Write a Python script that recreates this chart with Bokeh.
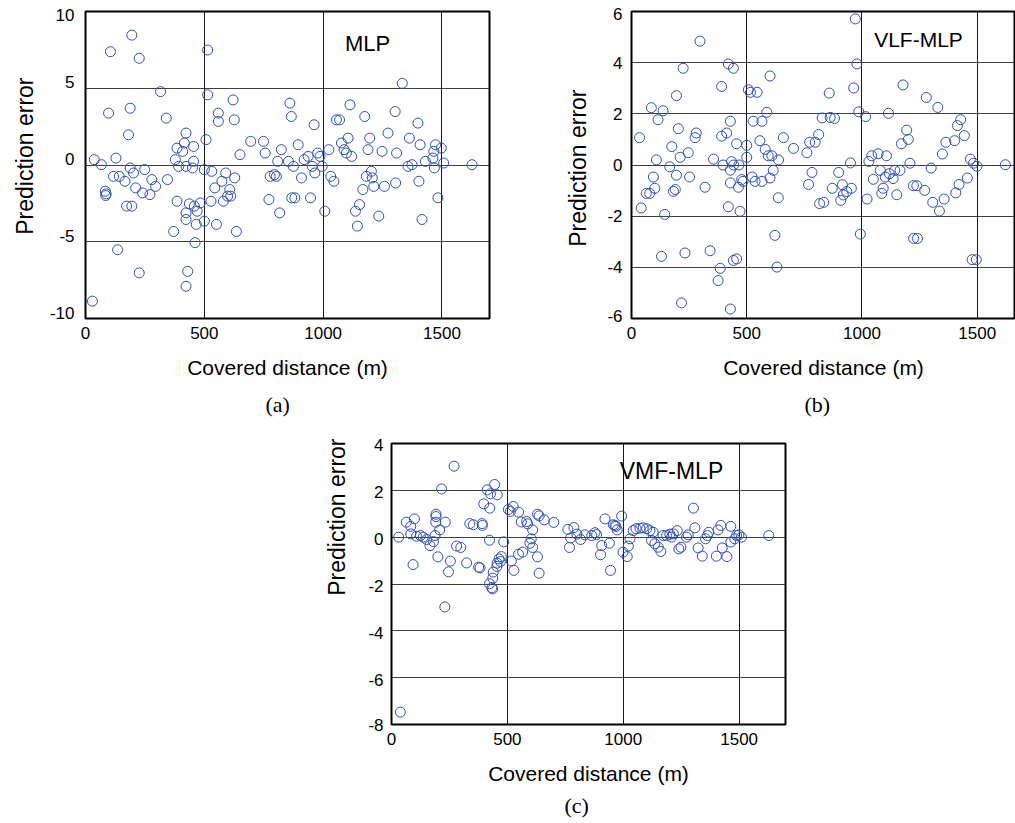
from bokeh.plotting import figure
from bokeh.layouts import column, row
from bokeh.models import Spacer, Label, Title, FixedTicker, Range1d
from bokeh.embed import file_html
from bokeh.resources import INLINE

# ---------------- data ----------------
x_ticks = [0, 500, 1000, 1500]
a_yticks = [-10, -5, 0, 5, 10]
b_yticks = [-6, -4, -2, 0, 2, 4, 6]
c_yticks = [-8, -6, -4, -2, 0, 2, 4]

x_title = "Covered distance (m)"
y_title = "Prediction error"
names = ["MLP", "VLF-MLP", "VMF-MLP"]
tags = ["(a)", "(b)", "(c)"]

# (a) MLP
a_x = [195, 105, 226, 514, 316, 514, 621, 97, 188, 340,
       559, 559, 626, 181, 423, 416, 385, 409, 455, 507,
       695, 749, 756, 650, 824, 860, 866, 809, 854, 37,
       67, 128, 378, 455, 392, 423, 450, 188, 249, 202,
       500, 531, 590, 628, 118, 142, 166, 279, 345, 295,
       211, 574, 607, 544, 240, 271, 83, 85, 87, 598,
       611, 580, 777, 795, 803, 772, 868, 817, 385, 437,
       458, 483, 470, 423, 423, 466, 500, 528, 551, 635,
       371, 173, 195, 461, 135, 226, 430, 423, 29,
       1333, 1113, 1303, 1175, 1056, 1069, 962, 1399, 895, 1273,
       1363, 1105, 1196, 1077, 1408, 1473, 1497, 1466, 1189, 1248,
       1309, 1088, 1098, 1120, 1024, 977, 987, 937, 920, 875,
       954, 996, 965, 909, 1032, 1045, 1462, 1430, 1507, 1468,
       1357, 1374, 1626, 1203, 1182, 1207, 1213, 1258, 1305, 1403,
       1167, 881, 947, 1007, 1153, 1136, 1144, 1234, 1483, 1416]
a_y = [8.46, 7.38, 6.95, 7.49, 4.78, 4.57, 4.24, 3.38, 3.70, 3.05,
       3.38, 2.84, 2.94, 1.97, 2.08, 1.43, 1.10, 0.89, 1.21, 1.65,
       1.54, 1.54, 0.78, 0.67, 1.0, 4.03, 3.16, 0.24, 0.24, 0.35,
       0.02, 0.45, 0.35, 0.24, -0.09, -0.09, -0.19, -0.19, -0.30, -0.52,
       -0.30, -0.41, -0.52, -0.84, -0.74, -0.74, -1.06, -0.95, -0.95, -1.39,
       -1.49, -1.06, -1.60, -1.49, -1.82, -1.93, -1.71, -1.99, -1.88, -2.03,
       -2.03, -2.36, -0.74, -0.63, -0.74, -2.25, -2.14, -3.12, -2.36, -2.53,
       -2.68, -2.47, -3.01, -3.12, -3.55, -3.87, -3.66, -2.36, -3.87, -4.33,
       -4.33, -2.68, -2.68, -5.06, -5.52, -7.03, -6.93, -7.90, -8.87,
       5.32, 3.92, 3.48, 3.16, 2.94, 2.94, 2.62, 2.73, 1.32, 2.08,
       1.75, 1.75, 1.75, 1.43, 1.32, 1.32, 1.10, 0.89, 1.0, 0.89,
       0.78, 1.0, 0.78, 0.56, 1.0, 0.78, 0.56, 0.56, 0.35, -0.09,
       -0.09, -0.09, -0.52, -0.84, -0.74, -1.06, 0.45, 0.24, 0.13, -0.19,
       -0.09, 0.02, 0.02, -0.41, -0.74, -0.84, -1.39, -1.39, -1.17, -1.06,
       -1.60, -2.14, -2.14, -3.01, -2.58, -3.01, -3.98, -3.33, -2.14, -3.55]

# (b) VLF-MLP
b_x = [297, 224, 420, 442, 601, 391, 507, 516, 545, 195,
       86, 137, 115, 587, 528, 566, 429, 203, 281, 276,
       391, 413, 35, 175, 246, 211, 456, 500, 557, 580,
       593, 609, 638, 659, 703, 761, 773, 797, 812, 827,
       108, 166, 356, 397, 434, 443, 466, 500, 429, 95,
       195, 252, 101, 64, 79, 182, 190, 319, 429, 464,
       478, 484, 523, 536, 566, 601, 615, 637, 783, 768,
       816, 834, 42, 144, 420, 471, 622, 130, 232, 341,
       385, 376, 442, 456, 631, 217, 429,
       971, 978, 858, 964, 1178, 1279, 1329, 862, 881, 986,
       1016, 1115, 1428, 1414, 1444, 1194, 1201, 1171, 1364, 1402,
       1349, 1042, 1070, 1106, 1030, 950, 899, 1208, 1300, 1470,
       1484, 1499, 1622, 1079, 1101, 1119, 1135, 1142, 1165, 1049,
       915, 871, 954, 934, 919, 908, 1092, 1086, 1151, 1223,
       1238, 1272, 1457, 1421, 1407, 1356, 1307, 1336, 1022, 993,
       1224, 1241, 1478, 1496]
b_y = [4.84, 3.78, 3.95, 3.78, 3.48, 3.07, 2.94, 2.84, 2.84, 2.71,
       2.24, 2.12, 1.77, 2.06, 1.71, 1.71, 1.71, 1.42, 1.25, 1.07,
       1.13, 1.25, 1.07, 0.72, 0.48, 0.30, 0.83, 0.77, 0.95, 0.61,
       0.36, 0.36, 0.20, 1.07, 0.65, 0.48, 0.89, 0.89, 1.19, 1.84,
       0.20, -0.07, 0.23, 0.0, 0.13, 0.0, 0.0, 0.30, -0.20, -0.47,
       -0.40, -0.47, -0.91, -1.11, -1.11, -1.03, -0.96, -0.87, -0.70, -0.87,
       -0.57, -0.64, -0.47, -0.64, -0.64, -0.51, -0.21, -1.28, -0.29, -0.76,
       -1.51, -1.46, -1.68, -1.93, -1.63, -1.81, -2.75, -3.57, -3.44, -3.35,
       -4.04, -4.52, -3.73, -3.67, -3.99, -5.39, -5.63,
       5.71, 3.95, 2.81, 3.01, 3.13, 2.64, 2.25, 1.86, 1.82, 2.08,
       1.89, 2.02, 1.77, 1.54, 1.15, 1.36, 1.0, 0.83, 0.89, 0.95,
       0.43, 0.36, 0.44, 0.36, 0.14, 0.08, -0.29, 0.07, -0.12, 0.23,
       0.07, -0.05, 0.01, -0.21, -0.47, -0.34, -0.53, -0.21, -0.21, -0.56,
       -0.77, -0.91, -0.91, -1.04, -1.17, -1.38, -0.91, -1.11, -1.16, -0.81,
       -0.81, -0.99, -0.51, -0.76, -1.09, -1.33, -1.46, -1.80, -1.33, -2.70,
       -2.87, -2.87, -3.70, -3.70]

# (c) VMF-MLP
c_x = [270, 216, 445, 413, 427, 456, 398, 424, 192, 192,
       64, 99, 83, 191, 232, 208, 338, 353, 391, 392,
       31, 83, 108, 125, 137, 152, 181, 166, 188, 281,
       299, 423, 484, 504, 525, 513, 548, 560, 583, 587,
       609, 630, 637, 659, 700, 761, 787, 773, 800, 816,
       834, 768, 603, 597, 609, 630, 637, 566, 548, 517,
       528, 474, 464, 470, 456, 455, 439, 437, 423, 433,
       436, 200, 254, 246, 324, 376, 382, 93, 230, 38,
       864, 878, 885, 907, 902, 921, 940, 945, 957, 968,
       974, 964, 993, 999, 1017, 1022, 1029, 1043, 1055, 1072,
       1086, 1101, 1115, 1129, 1122, 1136, 1151, 1162, 1172, 1187,
       1201, 1216, 1233, 1208, 1240, 1249, 1273, 1280, 1303, 1309,
       1323, 1341, 1355, 1369, 1363, 1402, 1409, 1421, 1427, 1447,
       1464, 1464, 1481, 1489, 1499, 1510, 1628]
c_y = [3.03, 2.06, 2.25, 2.02, 1.85, 1.81, 1.42, 1.24, 0.98, 0.88,
       0.64, 0.78, 0.46, 0.64, 0.64, 0.31, 0.58, 0.53, 0.58, 0.50,
       0.0, 0.14, 0.04, 0.07, 0.0, -0.10, -0.19, -0.36, 0.07, -0.38,
       -0.44, -0.13, -0.20, 1.18, 1.31, 1.10, 1.07, 0.65, 0.67, 0.57,
       0.31, 0.98, 0.91, 0.74, 0.63, 0.33, 0.41, -0.03, 0.13, -0.10,
       0.10, -0.44, -0.07, -0.26, -0.44, -0.84, -1.54, -0.64, -0.73, -1.02,
       -1.42, -0.83, -0.93, -1.04, -1.11, -1.25, -1.49, -1.75, -1.99, -2.16,
       -2.21, -0.84, -1.02, -1.48, -1.10, -1.28, -1.31, -1.17, -2.98, -7.47,
       0.07, 0.19, 0.11, -0.36, -0.75, 0.78, -0.26, -1.42, 0.53, 0.46,
       0.31, 0.50, 0.90, -0.64, -0.83, -0.38, -0.07, 0.28, 0.36, 0.38,
       0.40, 0.36, 0.28, 0.21, -0.14, -0.28, -0.43, -0.61, 0.07, 0.07,
       0.13, 0.14, 0.28, 0.0, -0.50, -0.43, 0.0, 0.10, 1.24, 0.40,
       -0.46, -0.81, -0.07, 0.21, 0.07, -0.81, 0.31, 0.50, -0.46, -0.83,
       0.46, -0.21, -0.07, 0.07, 0.10, 0.0, 0.07]

# ---------------- styling / layout ----------------
SANS = "Liberation Sans"
SERIF = "Liberation Serif"
MARK = "#2f4fb2"

# per panel: figure size, borders (l, r, t, b), page origin, x end, y range,
# y tick-label nudges (px), y-title offset/standoff, tag offset, note anchor (page px)
cfg = [
    dict(xs=a_x, ys=a_y, yt=a_yticks, w=500, h=424, mb=(85, 11, 11, 105), ox=0, oy=0,
         xend=1700, ylo=-10, yhi=10, shift=6, top=3.5, bot=None, ystand=11,
         yoff=66, ysto=17, tagoff=180, tagsto=16, note=(367, 43), nsize="22px"),
    dict(xs=b_x, ys=b_y, yt=b_yticks, w=515, h=424, mb=(131, 0, 11, 105), ox=500, oy=0,
         xend=1666, ylo=-6, yhi=6, shift=0, top=3, bot=3, ystand=9,
         yoff=78, ysto=27, tagoff=173, tagsto=16, note=(918, 39), nsize="21px"),
    dict(xs=c_x, ys=c_y, yt=c_yticks, w=495, h=399, mb=(91, 10, 19, 99), ox=300, oy=424,
         xend=1700, ylo=-8, yhi=4, shift=-2, top=None, bot=0, ystand=8,
         yoff=-5, ysto=32, tagoff=173, tagsto=6, note=(671, 470), nsize="23px"),
]


def panel(i):
    c = cfg[i]
    ml, mr, mt, mbt = c["mb"]
    p = figure(width=c["w"], height=c["h"],
               x_range=Range1d(0, c["xend"]), y_range=Range1d(c["ylo"], c["yhi"]),
               output_backend="svg", toolbar_location=None,
               min_border_left=ml, min_border_right=mr,
               min_border_top=mt, min_border_bottom=mbt)
    fw = c["w"] - ml - mr
    fh = c["h"] - mt - mbt
    L = c["ox"] + ml
    T = c["oy"] + mt
    sx = fw / c["xend"]
    sy = fh / (c["yhi"] - c["ylo"])

    xs, ys = c["xs"], c["ys"]
    n = min(len(xs), len(ys))
    p.scatter(xs[:n], ys[:n], marker="circle", size=10, fill_color=None,
              line_color=MARK, line_width=1)

    # grid at the true tick values
    p.xgrid.ticker = FixedTicker(ticks=x_ticks)
    p.ygrid.ticker = FixedTicker(ticks=c["yt"])
    p.xgrid.grid_line_color = "black"
    p.xgrid.grid_line_alpha = 0.9
    p.ygrid.grid_line_color = "black"
    p.ygrid.grid_line_alpha = 0.75
    p.outline_line_color = "black"
    p.outline_line_width = 2
    p.outline_line_alpha = 1

    # y tick labels placed like the original (slightly nudged)
    pos, over = [], {}
    for v in c["yt"]:
        q = v + c["shift"] / sy
        if v == c["yhi"] and c["top"] is not None:
            q = c["yhi"] - c["top"] / sy
        if v == c["ylo"] and c["bot"] is not None:
            q = c["ylo"] + c["bot"] / sy
        q = round(q, 6)
        pos.append(q)
        over[q] = str(v)
    p.yaxis.ticker = FixedTicker(ticks=pos)
    p.yaxis.major_label_overrides = over
    p.xaxis.ticker = FixedTicker(ticks=x_ticks)

    for ax in (p.xaxis, p.yaxis):
        ax.axis_line_color = None
        ax.major_tick_in = 0
        ax.major_tick_out = 0
        ax.major_tick_line_color = None
        ax.minor_tick_line_color = None
        ax.major_label_text_font = SANS
        ax.major_label_text_font_size = "17px"
        ax.major_label_text_color = "black"
    p.xaxis.major_label_standoff = 8
    p.yaxis.major_label_standoff = c["ystand"]

    # x title as axis label
    p.xaxis.axis_label = x_title
    p.xaxis.axis_label_text_font = SANS
    p.xaxis.axis_label_text_font_size = "21px"
    p.xaxis.axis_label_text_font_style = "normal"
    p.xaxis.axis_label_text_color = "black"
    p.xaxis.axis_label_standoff = 14

    # y title as a left-side title (allows vertical offset like the original)
    p.add_layout(Title(text=y_title, align="right", offset=c["yoff"],
                       standoff=c["ysto"], text_font=SANS, text_font_size="23px",
                       text_font_style="normal", text_color="black"), "left")

    # panel tag below
    p.add_layout(Title(text=tags[i], align="left", offset=c["tagoff"],
                       standoff=c["tagsto"], text_font=SERIF, text_font_size="22px",
                       text_font_style="normal", text_color="black"), "below")

    p.background_fill_color = "white"
    p.border_fill_color = "white"

    nx, ny = c["note"]
    p.add_layout(Label(x=(nx - L) / sx, y=c["yhi"] - (ny - T) / sy, text=names[i],
                       text_align="center", text_baseline="middle", text_font=SANS,
                       text_font_size=c["nsize"], text_color="black"))
    return p


fa = panel(0)
fb = panel(1)
fc = panel(2)

layout = column(row(fa, fb), row(Spacer(width=300, height=399), fc))

open("out.html", "w").write(file_html(layout, INLINE))
